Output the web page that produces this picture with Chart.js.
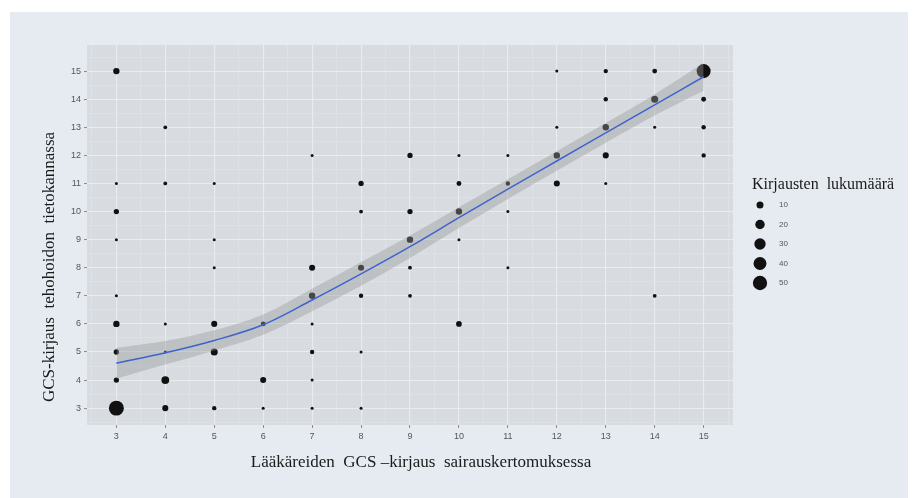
<!DOCTYPE html>
<html>
<head>
<meta charset="utf-8">
<script src="https://cdn.jsdelivr.net/npm/chart.js@4.4.1/dist/chart.umd.min.js"></script>
<style>
  html, body { margin: 0; padding: 0; background: #fff; }
  #wrap { width: 915px; height: 498px; }
</style>
</head>
<body>
<div id="wrap"><canvas id="gcsChart" width="915" height="498"></canvas></div>
<script>
// GCS tick labels, same on both axes
const tickValues = [3, 4, 5, 6, 7, 8, 9, 10, 11, 12, 13, 14, 15];

// one bubble per (x, y) pair, count = number of records
const pointX = [3, 4, 5, 6, 7, 8,
    3, 4, 6, 7,
    3, 4, 5, 7, 8,
    3, 4, 5, 6, 7, 10,
    3, 7, 8, 9, 14,
    5, 7, 8, 9, 11,
    3, 5, 9, 10,
    3, 8, 9, 10, 11,
    3, 4, 5, 8, 10, 11, 12, 13,
    7, 9, 10, 11, 12, 13, 15,
    4, 12, 13, 14, 15,
    13, 14, 15,
    3, 12, 13, 14, 15];
const pointY = [3, 3, 3, 3, 3, 3,
    4, 4, 4, 4,
    5, 5, 5, 5, 5,
    6, 6, 6, 6, 6, 6,
    7, 7, 7, 7, 7,
    8, 8, 8, 8, 8,
    9, 9, 9, 9,
    10, 10, 10, 10, 10,
    11, 11, 11, 11, 11, 11, 11, 11,
    12, 12, 12, 12, 12, 12, 12,
    13, 13, 13, 13, 13,
    14, 14, 14,
    15, 15, 15, 15, 15];
const pointCount = [55, 7, 3, 1, 1, 1,
    5, 13, 7, 1,
    5, 1, 10, 3, 1,
    8, 1, 7, 4, 1, 6,
    1, 8, 3, 2, 2,
    1, 7, 7, 2, 1,
    1, 1, 8, 1,
    5, 2, 5, 8, 1,
    1, 2, 1, 5, 4, 3, 7, 1,
    1, 5, 1, 1, 8, 7, 3,
    2, 1, 8, 1, 3,
    3, 10, 4,
    8, 1, 3, 4, 48];

// loess smooth with its confidence band
const smoothX = [3, 4, 5, 6, 7, 8, 9, 10, 11, 12, 13, 14, 15];
const smoothY = [4.6, 4.97, 5.41, 5.97, 6.85, 7.78, 8.75, 9.78, 10.8, 11.8, 12.8, 13.8, 14.8];
const bandLower = [4.05, 4.55, 5.05, 5.61, 6.45, 7.36, 8.35, 9.41, 10.45, 11.45, 12.45, 13.42, 14.3];
const bandUpper = [5.15, 5.39, 5.77, 6.33, 7.25, 8.2, 9.15, 10.15, 11.15, 12.15, 13.15, 14.18, 15.3];

const legendCounts = [10, 20, 30, 40, 50];

function radiusFor(n) {
    return 1.5 + (Math.sqrt(n) - 1) * 0.93;
}

function toXY(xs, ys) {
    return xs.map((x, i) => ({ x: x, y: ys[i] }));
}

// integer ticks plus half steps for the minor grid
function gridTicks(scale) {
    const ticks = [];
    for (let v = tickValues[0] - 0.5; v <= tickValues[tickValues.length - 1] + 0.5; v += 0.5) {
        ticks.push({ value: v });
    }
    scale.ticks = ticks;
}

const isMajor = ctx => ctx.tick && tickValues.includes(ctx.tick.value);

const axisStyle = {
    type: 'linear',
    border: { display: false },
    afterBuildTicks: gridTicks,
    grid: {
        color: ctx => isMajor(ctx) ? '#e9edf1' : '#e0e4e8',
        lineWidth: ctx => isMajor(ctx) ? 1.1 : 0.7,
        tickColor: ctx => isMajor(ctx) ? '#8a8a8a' : 'rgba(0,0,0,0)',
        tickLength: 3,
        tickWidth: 1
    },
    ticks: {
        autoSkip: false,
        maxRotation: 0,
        padding: 3,
        color: '#555',
        font: { family: 'Liberation Sans', size: 9 },
        callback: v => tickValues.includes(v) ? String(v) : ''
    }
};

const backdrop = {
    id: 'backdrop',
    beforeDraw(chart) {
        const c = chart.ctx;
        const a = chart.chartArea;
        c.save();
        c.fillStyle = '#ffffff';
        c.fillRect(0, 0, chart.width, chart.height);
        c.fillStyle = '#e5ebf1';
        c.fillRect(10, 12, 898, chart.height - 12);
        c.fillStyle = '#d8dce0';
        c.fillRect(a.left, a.top, a.right - a.left, a.bottom - a.top);
        c.restore();
    }
};

const labelsAndLegend = {
    id: 'labelsAndLegend',
    afterDraw(chart) {
        const c = chart.ctx;
        c.save();
        c.fillStyle = '#1a1a1a';
        c.textAlign = 'center';
        c.textBaseline = 'middle';
        c.font = '17px "Liberation Serif"';
        c.fillText('Lääkäreiden  GCS –kirjaus  sairauskertomuksessa', 421, 463);

        c.save();
        c.translate(50, 267);
        c.rotate(-Math.PI / 2);
        c.fillText('GCS-kirjaus  tehohoidon  tietokannassa', 0, 0);
        c.restore();

        c.textAlign = 'left';
        c.font = '16px "Liberation Serif"';
        c.fillText('Kirjausten  lukumäärä', 752, 185);

        c.font = '8px "Liberation Sans"';
        legendCounts.forEach((n, i) => {
            const y = 205 + i * 19.5;
            c.fillStyle = '#111';
            c.beginPath();
            c.arc(760, y, radiusFor(n), 0, Math.PI * 2);
            c.fill();
            c.fillStyle = '#555';
            c.fillText(String(n), 779, y);
        });
        c.restore();
    }
};

new Chart(document.getElementById('gcsChart'), {
    type: 'bubble',
    data: {
        datasets: [
            {
                label: 'Kirjausten lukumäärä',
                data: pointX.map((x, i) => ({ x: x, y: pointY[i], r: radiusFor(pointCount[i]) })),
                backgroundColor: '#111',
                borderWidth: 0,
                order: 3
            },
            {
                type: 'line',
                label: 'lower',
                data: toXY(smoothX, bandLower),
                borderWidth: 0,
                pointRadius: 0,
                fill: false,
                cubicInterpolationMode: 'monotone',
                order: 2
            },
            {
                type: 'line',
                label: 'upper',
                data: toXY(smoothX, bandUpper),
                borderWidth: 0,
                pointRadius: 0,
                fill: '-1',
                backgroundColor: 'rgba(153,153,153,0.4)',
                cubicInterpolationMode: 'monotone',
                order: 2
            },
            {
                type: 'line',
                label: 'loess',
                data: toXY(smoothX, smoothY),
                borderColor: '#3d63d0',
                borderWidth: 1.5,
                pointRadius: 0,
                fill: false,
                cubicInterpolationMode: 'monotone',
                order: 1
            }
        ]
    },
    options: {
        responsive: false,
        animation: false,
        layout: { padding: { left: 0, top: 45, right: 182, bottom: 0 } },
        plugins: {
            legend: { display: false },
            tooltip: { enabled: false }
        },
        scales: {
            x: Object.assign({}, axisStyle, {
                min: 2.4,
                max: 15.6,
                afterFit: s => { s.height = 73; }
            }),
            y: Object.assign({}, axisStyle, {
                min: 2.4,
                max: 15.93,
                afterFit: s => { s.width = 87; }
            })
        }
    },
    plugins: [backdrop, labelsAndLegend]
});
</script>
</body>
</html>
